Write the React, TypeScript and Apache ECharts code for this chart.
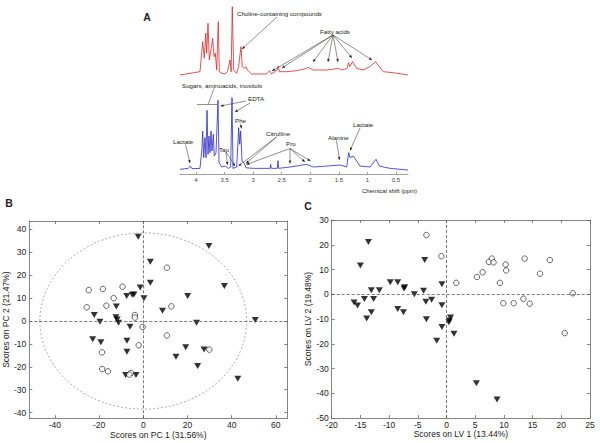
import React, { useEffect, useRef } from "react";
import * as echarts from "echarts";

// ---- Panel A: spectra as [chemical shift (ppm), relative intensity] ----
const redSpectrum: [number, number][] = [
  [4.28, 2.8], [3.93, 7.4], [3.883, 49], [3.855, 26], [3.83, 60.7], [3.813, 32.9], [3.79, 74.5],
  [3.767, 23.6], [3.738, 37.5], [3.708, 53.7], [3.685, 28.2], [3.662, 32.9], [3.638, 9.7], [3.61, 76.8],
  [3.592, 7.4], [3.55, 5.1], [3.49, 4.2], [3.45, 7.4], [3.405, 23.6], [3.385, 7.4], [3.365, 97.7],
  [3.34, 9.7], [3.29, 5.1], [3.255, 14.3], [3.213, 42], [3.19, 14.3], [3.155, 12], [3.125, 14.3],
  [3.1, 9.7], [3.03, 4.2], [2.765, 4.2], [2.71, 8.8], [2.68, 4.2], [2.58, 9.7], [2.56, 15.3],
  [2.54, 7.4], [2.41, 7.4], [2.24, 8.8], [2.065, 12], [2.035, 13.4], [1.95, 9.7], [1.715, 9.7],
  [1.51, 12], [1.45, 9.7], [1.355, 12], [1.33, 19.9], [1.31, 14.3], [1.26, 21.3], [1.19, 12],
  [1.075, 9.7], [0.96, 14.3], [0.855, 21.3], [0.815, 16.7], [0.725, 7.4], [0.55, 6], [0.29, 2.8],
];
const blueSpectrum: [number, number][] = [
  [4.28, 5.6], [4.135, 6.8], [4.1, 9.6], [4.07, 6.4], [3.93, 6.8], [3.895, 31.7], [3.883, 51.8],
  [3.865, 19.7], [3.843, 43.8], [3.825, 19.7], [3.808, 76.7], [3.79, 23.7], [3.773, 45.8],
  [3.755, 25.7], [3.738, 51.8], [3.72, 27.7], [3.697, 47.8], [3.68, 21.7], [3.65, 25.7],
  [3.615, 88.8], [3.597, 13.6], [3.55, 8.4], [3.49, 9.6], [3.435, 6.8], [3.393, 8.4], [3.37, 92],
  [3.352, 6.8], [3.288, 8.4], [3.253, 55.8], [3.235, 35.8], [3.218, 51.8], [3.195, 15.7],
  [3.16, 13.6], [3.125, 7.5], [2.997, 6.8], [2.705, 6.8], [2.693, 11.6], [2.68, 6.8], [2.577, 6.8],
  [2.565, 16], [2.553, 6.8], [2.355, 8.4], [2.063, 11.6], [1.947, 8.4], [1.713, 9.6], [1.48, 10.8],
  [1.363, 8.4], [1.328, 25.7], [1.305, 19.7], [1.247, 21.7], [1.13, 9.6], [0.955, 8.4], [0.85, 17.7],
  [0.792, 9.6], [0.605, 6.8], [0.29, 4.8],
];
const ppmTicks = [4, 3.5, 3, 2.5, 2, 1.5, 1, 0.5];

// ---- Panel B: PCA scores ----
const pcaTriangles: [number, number][] = [
  [-2.3, 36.8], [29.7, 32.8], [3.2, 25.9], [3.2, 16.7], [-1.4, 14.7], [-4.2, 11.6], [-5.0, 11.5],
  [-7.5, 10.9], [0.3, 9.9], [8.7, 4.5], [20.1, 10.9], [36.7, 15.3], [-12.2, 6.3], [-22.2, 2.6],
  [-19.6, -0.3], [-12.4, 1.6], [-11.8, 0.7], [-11.2, -0.7], [-6.0, -2.5], [24.1, -0.7], [50.7, 0.4],
  [-22.9, -8.0], [-19.2, -9.3], [-7.4, -8.6], [-7.4, -13.4], [19.2, -11.5], [27.5, -12.4],
  [14.8, -15.6], [24.6, -19.7], [-8.0, -23.6], [-3.3, -23.6], [42.8, -25.2],
];
const pcaCircles: [number, number][] = [
  [10.7, 23.3], [-24.7, 13.5], [-18.3, 14.0], [-9.4, 15.0], [-13.4, 10.0], [-25.6, 6.0], [-16.7, 6.7],
  [12.7, 6.4], [-3.8, 2.6], [-3.8, 1.5], [-0.3, -2.6], [10.7, -6.3], [-2.1, -10.6], [-18.7, -13.7],
  [29.9, -12.5], [-18.6, -21.0], [-16.0, -22.0], [-5.6, -22.7], [-6.3, -23.4],
];
const pcaEllipse = [[0, 0, 46.8, 38.5]];
const pcaXTicks = [-40, -20, 0, 20, 40, 60];
const pcaYTicks = [-40, -30, -20, -10, 0, 10, 20, 30, 40];

// ---- Panel C: PLS-DA scores ----
const plsTriangles: [number, number][] = [
  [-13.6, 21.1], [-15.0, 11.6], [-3.8, 13.8], [-16.1, -3.3], [-15.5, -4.5], [-14.3, -1.9], [-13.1, 1.6],
  [-12.7, -1.9], [-13.1, -7.3], [-13.9, -9.8], [-11.7, 1.6], [-9.8, 4.8], [-8.5, 4.8], [-7.3, 2.8],
  [-7.4, 2.3], [-8.5, -6.0], [-7.5, -7.3], [-5.6, 0.0], [-4.0, 1.4], [-3.6, -3.0], [-2.6, -2.2],
  [-3.5, -10.1], [-0.8, 4.0], [-0.8, -4.4], [-0.8, -13.2], [-1.7, -18.8], [0.7, -9.4], [0.5, -10.6],
  [0.4, -11.3], [1.3, -16.0], [5.2, -36.0], [8.8, -42.5],
];
const plsCircles: [number, number][] = [
  [-3.5, 23.9], [-0.9, 15.4], [1.7, 4.6], [5.3, 7.0], [6.3, 8.9], [7.4, 13.1], [7.9, 14.4], [8.2, 12.9],
  [10.3, 12.0], [10.4, 9.6], [9.3, 4.6], [13.6, 14.4], [18.0, 13.8], [16.3, 8.3], [22.0, 0.4],
  [9.9, -3.6], [11.7, -3.6], [13.4, -1.8], [14.5, -3.8], [20.6, -15.7],
];

const FONT = "'Liberation Sans', Arial, sans-serif";
const ANN = 6.2;

function arrow(x1: number, y1: number, x2: number, y2: number, head = true): any[] {
  const els: any[] = [
    { type: "line", silent: true, shape: { x1, y1, x2, y2 }, style: { stroke: "#222", lineWidth: 0.5 } },
  ];
  if (head) {
    const dx = x2 - x1, dy = y2 - y1;
    const L = Math.hypot(dx, dy) || 1;
    const ux = dx / L, uy = dy / L;
    const hl = 3, hw = 1.3;
    const bx = x2 - ux * hl, by = y2 - uy * hl;
    els.push({
      type: "polygon", silent: true,
      shape: { points: [[x2, y2], [bx - uy * hw, by + ux * hw], [bx + uy * hw, by - ux * hw]] },
      style: { fill: "#222" },
    });
  }
  return els;
}

function label(text: string, x: number, y: number, size = ANN, align = "left", bold = false): any {
  return {
    type: "text", silent: true, x, y,
    style: { text, fill: "#222", fontSize: size, fontFamily: bold ? "Arial, 'Liberation Sans', sans-serif" : FONT, fontWeight: bold ? "bold" : "normal", align, verticalAlign: "middle" },
  };
}

function boxAxisX(gridIndex: number, min: number, max: number, extra: any, top = false): any {
  return {
    type: "value", gridIndex, min, max, position: top ? "top" : "bottom",
    axisLine: { show: true, onZero: false, lineStyle: { color: "#666", width: 0.8 } },
    axisTick: { show: true, inside: true, length: 3, lineStyle: { color: "#666", width: 0.8 } },
    axisLabel: { show: !top, color: "#222", fontSize: 8.5, fontFamily: FONT, margin: 2 },
    splitLine: { show: false },
    ...extra,
  };
}
function boxAxisY(gridIndex: number, min: number, max: number, extra: any, right = false): any {
  return {
    type: "value", gridIndex, min, max, position: right ? "right" : "left",
    axisLine: { show: true, onZero: false, lineStyle: { color: "#666", width: 0.8 } },
    axisTick: { show: true, inside: true, length: 3, lineStyle: { color: "#666", width: 0.8 } },
    axisLabel: { show: !right, color: "#222", fontSize: 8.5, fontFamily: FONT, margin: 3 },
    splitLine: { show: false },
    ...extra,
  };
}

const zeroLines = {
  silent: true, symbol: "none", label: { show: false },
  lineStyle: { color: "#555", type: [3, 2], width: 0.8 },
  data: [{ xAxis: 0 }, { yAxis: 0 }],
};

export default function App() {
  const ref = useRef<HTMLDivElement>(null);
  useEffect(() => {
    if (!ref.current) return;
    const chart = echarts.init(ref.current, null, { renderer: "svg" });
    const graphicEls: any[] = [
      label("A", 147, 16.5, 10.5, "center", true),
      label("B", 9, 203, 10.5, "center", true),
      label("C", 308, 205.5, 10.5, "center", true),
      label("Choline-containing compounds", 237, 13),
      ...arrow(277, 17, 242, 49),
      label("Fatty acids", 320, 31),
      ...arrow(333, 35, 272, 71),
      ...arrow(333, 35, 282, 68),
      ...arrow(333, 35, 313, 62),
      ...arrow(333, 35, 328, 62),
      ...arrow(333, 35, 338, 62),
      ...arrow(333, 35, 352, 58),
      ...arrow(333, 35, 372, 60),
      label("Sugars, aminoacids, inositols", 182, 85),
      ...arrow(214, 88.5, 208, 104.5, false),
      ...arrow(197, 104.5, 217, 104.5, false),
      label("EDTA", 248, 98.5),
      ...arrow(246, 101, 220.5, 106),
      ...arrow(250, 103, 235, 112),
      label("Phe", 235, 120.5),
      ...arrow(240.5, 124, 241.5, 128.5),
      label("Lactate", 173, 141),
      ...arrow(185.5, 144.5, 190, 163),
      label("Tau", 219, 149),
      ...arrow(226, 152, 227.5, 165),
      ...arrow(226, 152, 235, 166),
      label("Citrulline", 266, 133.5),
      ...arrow(276.5, 137, 238.5, 166),
      ...arrow(276.5, 137, 246, 163.5),
      label("Pro", 286, 143.5),
      ...arrow(290, 148.5, 246.5, 164.5),
      ...arrow(290, 148.5, 290, 163.5),
      ...arrow(290, 148.5, 305, 162),
      ...arrow(290, 148.5, 310.5, 161),
      label("Alanine", 328, 137),
      ...arrow(336.5, 140.5, 339.5, 160),
      label("Lactate", 353, 124.5),
      ...arrow(360, 128, 350, 150.5),
      label("Chemical shift (ppm)", 389.5, 191, 6, "center"),
    ];

    chart.setOption({
      animation: false,
      backgroundColor: "#fff",
      grid: [
        { left: 180, top: 5, width: 228, height: 72 },
        { left: 180, top: 91, width: 228, height: 83 },
        { left: 29.3, top: 221, width: 258, height: 197.3 },
        { left: 331.7, top: 220, width: 258.3, height: 198 },
      ],
      xAxis: [
        { type: "value", gridIndex: 0, min: 0.29, max: 4.28, inverse: true, show: false },
        {
          type: "value", gridIndex: 1, min: 0.29, max: 4.28, inverse: true,
          axisLine: { show: true, onZero: false, lineStyle: { color: "#777", width: 0.7 } },
          axisTick: { show: true, inside: true, length: 2, customValues: ppmTicks, lineStyle: { color: "#777", width: 0.7 } },
          axisLabel: { color: "#444", fontSize: 6, fontFamily: FONT, margin: 3, customValues: ppmTicks },
          splitLine: { show: false },
        },
        boxAxisX(2, -51.6, 65.2, {
          name: "Scores on PC 1 (31.56%)", nameLocation: "middle", nameGap: 9,
          nameTextStyle: { color: "#222", fontSize: 8.5, fontFamily: FONT },
          axisTick: { show: true, inside: true, length: 3, customValues: pcaXTicks, lineStyle: { color: "#666", width: 0.8 } },
          axisLabel: { show: true, color: "#222", fontSize: 8.5, fontFamily: FONT, margin: 2, customValues: pcaXTicks },
        }),
        boxAxisX(2, -51.6, 65.2, {
          axisTick: { show: true, inside: true, length: 3, customValues: pcaXTicks, lineStyle: { color: "#666", width: 0.8 } },
        }, true),
        boxAxisX(3, -20, 25, {
          interval: 5, name: "Scores on LV 1 (13.44%)", nameLocation: "middle", nameGap: 9.5,
          nameTextStyle: { color: "#222", fontSize: 8.5, fontFamily: FONT },
        }),
        boxAxisX(3, -20, 25, { interval: 5 }, true),
      ],
      yAxis: [
        { type: "value", gridIndex: 0, min: 0, max: 100, show: false },
        { type: "value", gridIndex: 1, min: 0, max: 100, show: false },
        boxAxisY(2, -42.5, 43.7, {
          name: "Scores on PC 2 (21.47%)", nameLocation: "middle", nameGap: 15.5,
          nameTextStyle: { color: "#222", fontSize: 8.5, fontFamily: FONT },
          axisTick: { show: true, inside: true, length: 3, customValues: pcaYTicks, lineStyle: { color: "#666", width: 0.8 } },
          axisLabel: { show: true, color: "#222", fontSize: 8.5, fontFamily: FONT, margin: 3, customValues: pcaYTicks },
        }),
        boxAxisY(2, -42.5, 43.7, {
          axisTick: { show: true, inside: true, length: 3, customValues: pcaYTicks, lineStyle: { color: "#666", width: 0.8 } },
        }, true),
        boxAxisY(3, -50, 30, {
          interval: 10, name: "Scores on LV 2 (19.48%)", nameLocation: "middle", nameGap: 17.5,
          nameTextStyle: { color: "#222", fontSize: 8.5, fontFamily: FONT },
        }),
        boxAxisY(3, -50, 30, { interval: 10 }, true),
      ],
      series: [
        {
          type: "line", xAxisIndex: 0, yAxisIndex: 0, data: redSpectrum, showSymbol: false,
          lineStyle: { color: "#d42a2a", width: 0.8 }, silent: true,
        },
        {
          type: "line", xAxisIndex: 1, yAxisIndex: 1, data: blueSpectrum, showSymbol: false,
          lineStyle: { color: "#2a2ac8", width: 0.8 }, silent: true,
        },
        {
          type: "custom", xAxisIndex: 2, yAxisIndex: 2, data: pcaEllipse, silent: true,
          renderItem: (_p: any, api: any) => {
            const c = api.coord([api.value(0), api.value(1)]);
            const s = api.size([api.value(2), api.value(3)]);
            return {
              type: "ellipse",
              shape: { cx: c[0], cy: c[1], rx: s[0], ry: s[1] },
              style: { fill: "none", stroke: "#999", lineWidth: 0.8, lineDash: [2, 2] },
            };
          },
        },
        {
          type: "scatter", xAxisIndex: 2, yAxisIndex: 2, data: pcaTriangles,
          symbol: "triangle", symbolRotate: 180, symbolSize: [7, 6],
          itemStyle: { color: "#000" }, markLine: zeroLines, z: 3,
        },
        {
          type: "scatter", xAxisIndex: 2, yAxisIndex: 2, data: pcaCircles,
          symbol: "circle", symbolSize: 5.5,
          itemStyle: { color: "#fff", borderColor: "#111", borderWidth: 0.8 }, z: 3,
        },
        {
          type: "scatter", xAxisIndex: 4, yAxisIndex: 4, data: plsTriangles,
          symbol: "triangle", symbolRotate: 180, symbolSize: [7, 6],
          itemStyle: { color: "#000" }, markLine: zeroLines, z: 3,
        },
        {
          type: "scatter", xAxisIndex: 4, yAxisIndex: 4, data: plsCircles,
          symbol: "circle", symbolSize: 5.5,
          itemStyle: { color: "#fff", borderColor: "#111", borderWidth: 0.8 }, z: 3,
        },
      ],
      graphic: { elements: graphicEls },
    });
    return () => chart.dispose();
  }, []);
  return <div ref={ref} style={{ position: "fixed", left: 0, top: 0, width: 600, height: 443 }} />;
}
